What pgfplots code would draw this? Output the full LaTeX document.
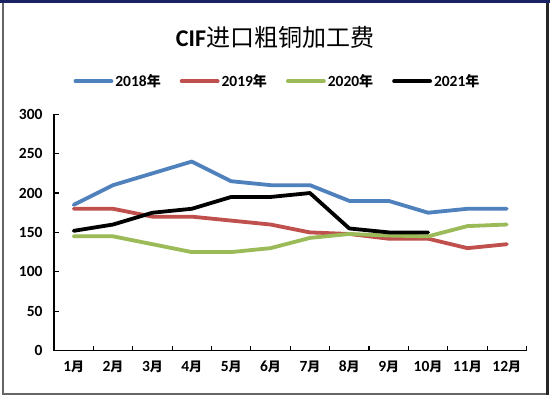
\documentclass[border=0pt]{standalone}
\usepackage{fontspec}
\setmainfont{Carlito}
\newfontfamily\cjk{Noto Sans CJK SC}
\usepackage{pgfplots}
\pgfplotsset{compat=1.18}
\definecolor{c18}{HTML}{4F81BD}
\definecolor{c19}{HTML}{C0504D}
\definecolor{c20}{HTML}{9BBB59}
\definecolor{navy}{RGB}{25,35,100}
\newcommand{\yue}[1]{#1{\cjk\fontsize{13}{15}\selectfont 月}}
\newcommand{\nian}[1]{#1{\cjk\fontsize{14}{16}\selectfont 年}}
\begin{document}
\begin{tikzpicture}
\useasboundingbox (0pt,0pt) rectangle (550pt,397pt);
\fill[white] (0pt,0pt) rectangle (550pt,397pt);
\fill[navy] (0pt,393.5pt) rectangle (550pt,397pt);
\draw[black!60, line width=2pt] (2.5pt,393.5pt) -- (2.5pt,3pt) -- (547pt,3pt);
\draw[black!85, line width=2.5pt] (547.3pt,393.5pt) -- (547.3pt,2pt);
\node[font=\fontsize{24}{28}\selectfont] at (275pt,360pt) {\textbf{CIF}{\cjk 进口粗铜加工费}};
\begin{axis}[
  at={(54pt,46.5pt)}, anchor=south west,
  scale only axis, width=472.5pt, height=236.2pt,
  xmin=0.5, xmax=12.5, ymin=0, ymax=300,
  axis lines=left, axis line style={-, line width=1.5pt, black},
  xtick={1,...,12},
  xticklabels={\yue{1},\yue{2},\yue{3},\yue{4},\yue{5},\yue{6},\yue{7},\yue{8},\yue{9},\yue{10},\yue{11},\yue{12}},
  major x tick style={draw=none},
  minor xtick={1.5,2.5,...,12.5},
  ytick={0,50,...,300},
  tick align=inside, major tick length=5pt, minor tick length=5pt,
  tick style={line width=1.2pt, black},
  /pgf/number format/assume math mode=true,
  ticklabel style={font=\fontsize{15.5}{17}\selectfont\bfseries},
  yticklabel style={xshift=-8pt},
  xticklabel style={yshift=-7pt},
  legend style={at={(0.473,1.14)}, anchor=center, draw=none, fill=none,
    font=\fontsize{15.5}{17}\selectfont\bfseries,
    /tikz/every even column/.append style={column sep=17pt}},
  legend columns=4,
  legend image code/.code={\draw[#1] (0pt,0pt) -- (36pt,0pt);},
  every axis plot/.append style={line width=3.8pt, line cap=round, line join=round},
]
\addplot[c18] coordinates {(1,185)(2,210)(3,225)(4,240)(5,215)(6,210)(7,210)(8,190)(9,190)(10,175)(11,180)(12,180)};
\addlegendentry{\nian{2018}}
\addplot[c19] coordinates {(1,180)(2,180)(3,170)(4,170)(5,165)(6,160)(7,150)(8,148)(9,142)(10,142)(11,130)(12,135)};
\addlegendentry{\nian{2019}}
\addplot[c20] coordinates {(1,145)(2,145)(3,135)(4,125)(5,125)(6,130)(7,143)(8,148)(9,146)(10,145)(11,158)(12,160)};
\addlegendentry{\nian{2020}}
\addplot[black] coordinates {(1,152)(2,160)(3,175)(4,180)(5,195)(6,195)(7,200)(8,155)(9,150)(10,150)};
\addlegendentry{\nian{2021}}
\end{axis}
\end{tikzpicture}
\end{document}
